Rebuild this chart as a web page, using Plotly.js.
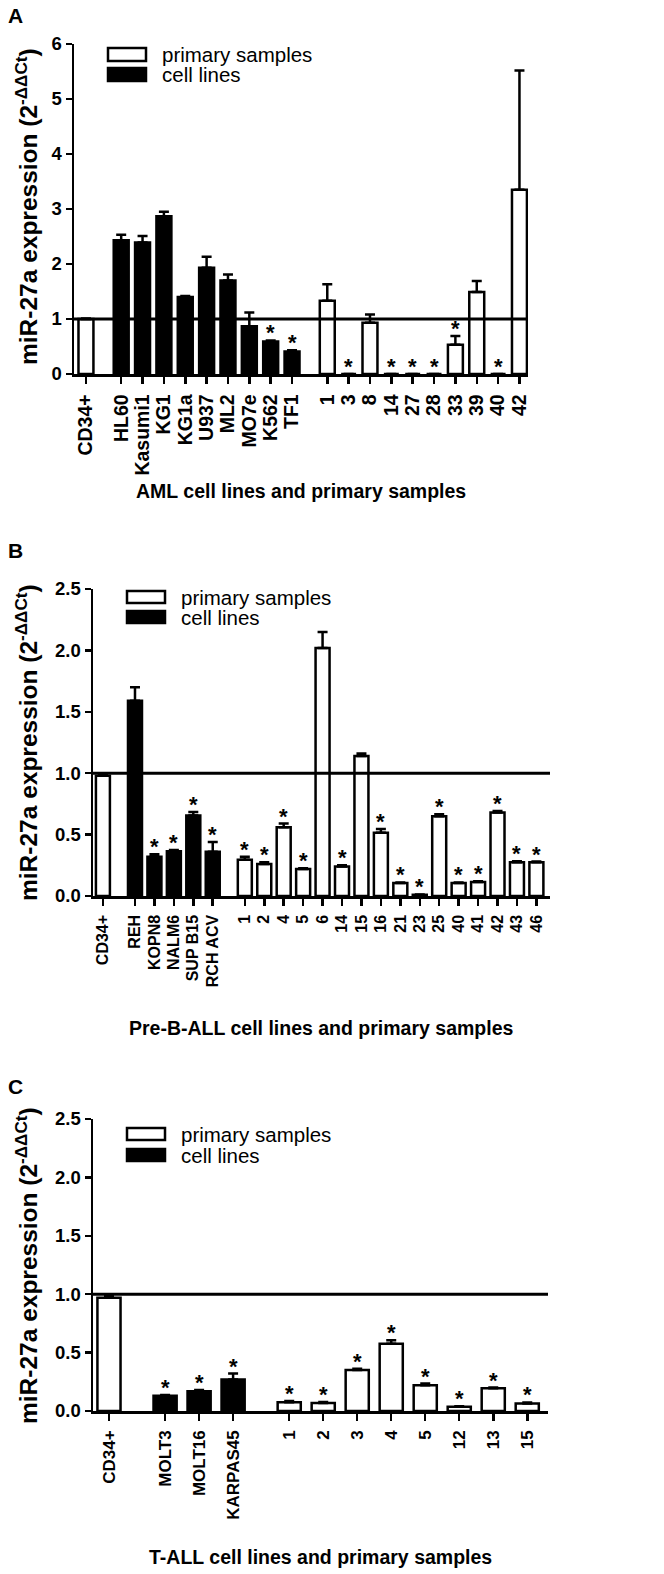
<!DOCTYPE html>
<html>
<head>
<meta charset="utf-8">
<script src="https://cdn.plot.ly/plotly-3.0.1.min.js"></script>
<style>html,body{margin:0;padding:0;background:#fff;}#chart{width:664px;height:1574px;}</style>
</head>
<body>
<div id="chart"></div>
<script>
// ---------------- DATA ----------------
// Panel A: AML
const aCd34Val = [1.00];
const aCd34Err = [0.01];
const aLineLabels = ["HL60","Kasumi1","KG1","KG1a","U937","ML2","MO7e","K562","TF1"];
const aLineVals   = [2.43, 2.39, 2.87, 1.40, 1.93, 1.70, 0.87, 0.59, 0.41];
const aLineErrs   = [0.10, 0.12, 0.08, 0.02, 0.20, 0.11, 0.25, 0.02, 0.02];
const aLineSig    = [0, 0, 0, 0, 0, 0, 0, 1, 1];
const aPrimLabels = ["1","3","8","14","27","28","33","39","40","42"];
const aPrimVals   = [1.33, 0, 0.93, 0, 0, 0, 0.53, 1.49, 0, 3.35];
const aPrimErrs   = [0.30, 0, 0.15, 0, 0, 0, 0.16, 0.20, 0, 2.17];
const aPrimSig    = [0, 1, 0, 1, 1, 1, 1, 0, 1, 0];

// Panel B: Pre-B-ALL
const bCd34Val = [0.98];
const bCd34Err = [0.01];
const bLineLabels = ["REH","KOPN8","NALM6","SUP B15","RCH ACV"];
const bLineVals   = [1.59, 0.32, 0.365, 0.655, 0.36];
const bLineErrs   = [0.11, 0.02, 0.01, 0.03, 0.08];
const bLineSig    = [0, 1, 1, 1, 1];
const bPrimLabels = ["1","2","4","5","6","14","15","16","21","23","25","40","41","42","43","46"];
const bPrimVals   = [0.295, 0.26, 0.56, 0.22, 2.02, 0.24, 1.14, 0.515, 0.105, 0.01, 0.65, 0.105, 0.115, 0.68, 0.275, 0.275];
const bPrimErrs   = [0.025, 0.015, 0.03, 0.005, 0.13, 0.01, 0.02, 0.03, 0.005, 0.003, 0.015, 0.005, 0.005, 0.012, 0.008, 0.005];
const bPrimSig    = [1, 1, 1, 1, 0, 1, 0, 1, 1, 1, 1, 1, 1, 1, 1, 1];

// Panel C: T-ALL
const cCd34Val = [0.97];
const cCd34Err = [0.015];
const cLineLabels = ["MOLT3","MOLT16","KARPAS45"];
const cLineVals   = [0.13, 0.17, 0.27];
const cLineErrs   = [0.008, 0.01, 0.05];
const cLineSig    = [1, 1, 1];
const cPrimLabels = ["1","2","3","4","5","12","13","15"];
const cPrimVals   = [0.075, 0.068, 0.35, 0.575, 0.22, 0.037, 0.195, 0.065];
const cPrimErrs   = [0.01, 0.008, 0.012, 0.03, 0.015, 0.003, 0.006, 0.008];
const cPrimSig    = [1, 1, 1, 1, 1, 1, 1, 1];

const legendNames = ["primary samples", "cell lines"];
const refLevel = 1.0;

// ---------------- LAYOUT ----------------
const W = 664, H = 1574;
const FONT = "Liberation Sans, Arial, Helvetica, sans-serif";
const GAP = 1.65;
const px = p => p / W;
const py = p => 1 - p / H;

const panels = [
  {letter:"A", title:"AML cell lines and primary samples",
   cd:[aCd34Val,aCd34Err], lines:[aLineLabels,aLineVals,aLineErrs,aLineSig], prim:[aPrimLabels,aPrimVals,aPrimErrs,aPrimSig],
   xDom:[74,528], yDom:[44,374], xRange:[-0.56,20.70], yRange:[0,6], dtick:1, fmt:"d", bw:0.7, xtf:19.5,
   letterPos:[15,16], yTitle:[26,207], xTitleY:491, leg:{x0:108,x1:146,y:[[48,61],[68,81]],tx:160}},
  {letter:"B", title:"Pre-B-ALL cell lines and primary samples",
   cd:[bCd34Val,bCd34Err], lines:[bLineLabels,bLineVals,bLineErrs,bLineSig], prim:[bPrimLabels,bPrimVals,bPrimErrs,bPrimSig],
   xDom:[93,550], yDom:[589,896], xRange:[-0.51,23.0], yRange:[0,2.5], dtick:0.5, fmt:".1f", bw:0.72, xtf:16,
   letterPos:[15,550], yTitle:[26,743], xTitleY:1028, leg:{x0:127,x1:165,y:[[591,603],[611,623]],tx:179}},
  {letter:"C", title:"T-ALL cell lines and primary samples",
   cd:[cCd34Val,cCd34Err], lines:[cLineLabels,cLineVals,cLineErrs,cLineSig], prim:[cPrimLabels,cPrimVals,cPrimErrs,cPrimSig],
   xDom:[93,548], yDom:[1119,1411], xRange:[-0.47,12.91], yRange:[0,2.5], dtick:0.5, fmt:".1f", bw:0.68, xtf:17,
   letterPos:[15,1086], yTitle:[26,1266], xTitleY:1557, leg:{x0:127,x1:165,y:[[1128,1140],[1149,1161]],tx:179}}
];

const traces = [], annotations = [], shapes = [];
const layout = {
  width: W, height: H, autosize: false,
  margin: {l:0, r:0, t:0, b:0},
  paper_bgcolor: "#fff", plot_bgcolor: "#fff",
  showlegend: false, bargap: 0,
  font: {family: FONT, color: "#000"}
};

panels.forEach((p, k) => {
  const sfx = k === 0 ? "" : String(k + 1);
  const xa = "x" + sfx, ya = "y" + sfx;
  const [lLab, lVal, lErr, lSig] = p.lines;
  const [pLab, pVal, pErr, pSig] = p.prim;
  const linePos = lLab.map((_, i) => GAP + i);
  const primStart = GAP + (lLab.length - 1) + GAP;
  const primPos = pLab.map((_, j) => primStart + j);

  const whiteX = [0].concat(primPos);
  const whiteY = p.cd[0].concat(pVal);
  const whiteE = p.cd[1].concat(pErr);
  const errStyle = e => ({type:"data", array:e, arrayminus:e.map(()=>0), symmetric:false,
                          visible:true, color:"#000", thickness:2.5, width:5});
  traces.push({type:"bar", x:whiteX, y:whiteY, width:p.bw, xaxis:xa, yaxis:ya,
    marker:{color:"#fff", line:{color:"#000", width:2.5}}, error_y:errStyle(whiteE),
    name:legendNames[0], hoverinfo:"x+y"});
  traces.push({type:"bar", x:linePos, y:lVal, width:p.bw, xaxis:xa, yaxis:ya,
    marker:{color:"#000", line:{color:"#000", width:2.5}}, error_y:errStyle(lErr),
    name:legendNames[1], hoverinfo:"x+y"});

  // significance stars
  const addStars = (pos, vals, errs, sig) => pos.forEach((x, i) => {
    if (!sig[i]) return;
    annotations.push({xref:xa, yref:ya, x:x, y:vals[i] + errs[i], text:"*", showarrow:false,
      yanchor:"bottom", xanchor:"center", yshift:-7, font:{size:22, family:FONT, weight:700, color:"#000"}});
  });
  addStars(linePos, lVal, lErr, lSig);
  addStars(primPos, pVal, pErr, pSig);

  const tickvals = [0].concat(linePos, primPos);
  const ticktext = ["CD34+"].concat(lLab, pLab);

  layout["xaxis" + sfx] = {
    domain:[px(p.xDom[0]), px(p.xDom[1])], range:p.xRange, anchor:ya,
    tickmode:"array", tickvals:tickvals, ticktext:ticktext, tickangle:-90,
    ticks:"outside", ticklen:7, tickwidth:2.5, tickcolor:"#000",
    showline:true, linewidth:2.5, linecolor:"#000", showgrid:false, zeroline:false,
    ticklabelstandoff:3,
    tickfont:{size:p.xtf, family:FONT, weight:700, color:"#000"}, fixedrange:true
  };
  layout["yaxis" + sfx] = {
    domain:[py(p.yDom[1]), py(p.yDom[0])], range:p.yRange, anchor:xa,
    dtick:p.dtick, tick0:0, tickformat:p.fmt,
    ticks:"outside", ticklen:6, tickwidth:2.5, tickcolor:"#000",
    showline:true, linewidth:2.5, linecolor:"#000", showgrid:false, zeroline:false,
    tickfont:{size:18.5, family:FONT, weight:700, color:"#000"}, fixedrange:true
  };

  // reference line at 1.0
  shapes.push({type:"line", xref:xa + " domain", yref:ya, x0:0, x1:1, y0:refLevel, y1:refLevel,
    line:{color:"#000", width:3}, layer:"above"});

  // legend (boxes + text)
  const L = p.leg;
  shapes.push({type:"rect", xref:"paper", yref:"paper", x0:px(L.x0), x1:px(L.x1),
    y0:py(L.y[0][1]), y1:py(L.y[0][0]), fillcolor:"#fff", line:{color:"#000", width:2.5}});
  shapes.push({type:"rect", xref:"paper", yref:"paper", x0:px(L.x0), x1:px(L.x1),
    y0:py(L.y[1][1]), y1:py(L.y[1][0]), fillcolor:"#000", line:{color:"#000", width:2.5}});
  legendNames.forEach((nm, i) => {
    annotations.push({xref:"paper", yref:"paper", x:px(L.tx), y:py((L.y[i][0] + L.y[i][1]) / 2),
      text:nm, showarrow:false, xanchor:"left", yanchor:"middle",
      font:{size:20.5, family:FONT, color:"#000"}});
  });

  // panel letter
  annotations.push({xref:"paper", yref:"paper", x:px(p.letterPos[0]), y:py(p.letterPos[1]),
    text:p.letter, showarrow:false, xanchor:"center", yanchor:"middle",
    font:{size:21, family:FONT, weight:700, color:"#000"}});
  // y title
  annotations.push({xref:"paper", yref:"paper", x:px(p.yTitle[0]), y:py(p.yTitle[1]),
    text:"miR-27a expression (2<sup>-ΔΔCt</sup>)", showarrow:false, textangle:-90,
    xanchor:"center", yanchor:"middle",
    font:{size:24.5, family:FONT, weight:700, color:"#000"}});
  // x title
  annotations.push({xref:"paper", yref:"paper", x:px((p.xDom[0] + p.xDom[1]) / 2), y:py(p.xTitleY),
    text:p.title, showarrow:false, xanchor:"center", yanchor:"middle",
    font:{size:19.5, family:FONT, weight:700, color:"#000"}});
});

layout.annotations = annotations;
layout.shapes = shapes;

Plotly.newPlot("chart", traces, layout, {displayModeBar:false, staticPlot:true});
</script>
</body>
</html>
